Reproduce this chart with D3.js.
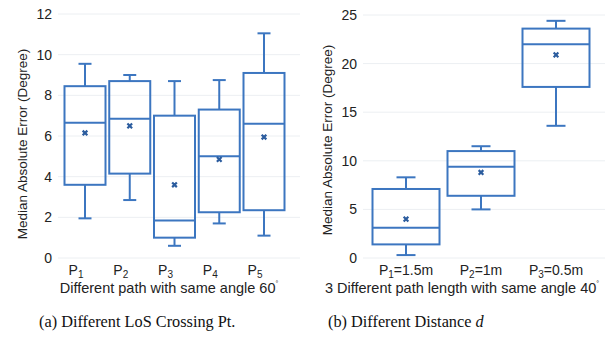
<!DOCTYPE html>
<html>
<head>
<meta charset="utf-8">
<script src="https://cdn.jsdelivr.net/npm/d3@7"></script>
<style>
  body { margin: 0; background: #fff; }
  svg { display: block; }
  .tick-text { font-family: "Liberation Sans", Arial, sans-serif; font-size: 14px; fill: #222; }
  .axis-text { font-family: "Liberation Sans", Arial, sans-serif; font-size: 14.5px; fill: #222; }
  .ylab { font-family: "Liberation Sans", Arial, sans-serif; font-size: 13.5px; fill: #222; }
  .caption { font-family: "Liberation Serif", "Times New Roman", serif; font-size: 16.3px; fill: #111; }
</style>
</head>
<body>
<div id="chart"></div>
<script>
// panel (a): five paths, same angle 60
const catsA = ["1", "2", "3", "4", "5"];
const minA  = [1.95, 2.85, 0.6, 1.7, 1.1];
const q1A   = [3.6, 4.15, 1.0, 2.25, 2.35];
const medA  = [6.65, 6.85, 1.85, 5.0, 6.6];
const q3A   = [8.45, 8.7, 7.0, 7.3, 9.1];
const maxA  = [9.55, 9.0, 8.7, 8.75, 11.05];
const meanA = [6.15, 6.5, 3.6, 4.85, 5.95];
const ticksA = [0, 2, 4, 6, 8, 10, 12];

// panel (b): three path lengths, same angle 40
const catsB  = ["1", "2", "3"];
const distB  = ["1.5m", "1m", "0.5m"];
const minB   = [0.3, 5.0, 13.6];
const q1B    = [1.4, 6.4, 17.6];
const medB   = [3.1, 9.4, 22.0];
const q3B    = [7.1, 11.0, 23.6];
const maxB   = [8.3, 11.5, 24.4];
const meanB  = [4.0, 8.8, 20.9];
const ticksB = [0, 5, 10, 15, 20, 25];

const W = 610, H = 343;
const boxColor = "#3c76c0";
const markColor = "#2b5c9e";

const svg = d3.select("#chart").append("svg")
  .attr("width", W).attr("height", H);

function panel(opt) {
  const g = svg.append("g");
  const y = d3.scaleLinear().domain(opt.domain).range([258, opt.top]);
  const x = d3.scalePoint().domain(opt.cats).range(opt.xr);
  const bw = opt.boxW;

  // gridlines
  g.selectAll(".grid").data(opt.ticks).enter().append("line")
    .attr("x1", opt.gx[0]).attr("x2", opt.gx[1])
    .attr("y1", d => y(d)).attr("y2", d => y(d))
    .attr("stroke", "#eceff2").attr("stroke-width", 1);

  // y tick labels
  g.selectAll(".yt").data(opt.ticks).enter().append("text")
    .attr("class", "tick-text")
    .attr("x", opt.labelX).attr("y", d => y(d))
    .attr("dy", "0.35em").attr("text-anchor", "end")
    .text(d => d);

  const rows = opt.cats.map((c, i) => ({
    c, min: opt.min[i], q1: opt.q1[i], med: opt.med[i], q3: opt.q3[i], max: opt.max[i], mean: opt.mean[i]
  }));

  const b = g.selectAll(".box").data(rows).enter().append("g");

  // whiskers
  b.append("line").attr("x1", d => x(d.c)).attr("x2", d => x(d.c))
    .attr("y1", d => y(d.q3)).attr("y2", d => y(d.max));
  b.append("line").attr("x1", d => x(d.c)).attr("x2", d => x(d.c))
    .attr("y1", d => y(d.q1)).attr("y2", d => y(d.min));
  b.append("line").attr("x1", d => x(d.c) - opt.capW / 2).attr("x2", d => x(d.c) + opt.capW / 2)
    .attr("y1", d => y(d.max)).attr("y2", d => y(d.max));
  b.append("line").attr("x1", d => x(d.c) - opt.capW / 2).attr("x2", d => x(d.c) + opt.capW / 2)
    .attr("y1", d => y(d.min)).attr("y2", d => y(d.min));
  // box
  b.append("rect")
    .attr("x", d => x(d.c) - bw / 2).attr("width", bw)
    .attr("y", d => y(d.q3)).attr("height", d => y(d.q1) - y(d.q3))
    .attr("fill", "none");
  // median
  b.append("line").attr("x1", d => x(d.c) - bw / 2).attr("x2", d => x(d.c) + bw / 2)
    .attr("y1", d => y(d.med)).attr("y2", d => y(d.med));
  b.selectAll("line, rect").attr("stroke", boxColor).attr("stroke-width", 2);

  // mean marker
  b.append("path")
    .attr("d", d3.symbol().type(d3.symbolTimes).size(16))
    .attr("transform", d => `translate(${x(d.c)},${y(d.mean)})`)
    .attr("fill", "none").attr("stroke", markColor).attr("stroke-width", 2.2);

  // x tick labels: P with subscript
  const xt = g.selectAll(".xt").data(rows).enter().append("text")
    .attr("class", "tick-text")
    .attr("x", d => x(d.c) + opt.xlOff).attr("y", 275)
    .attr("text-anchor", "middle");
  xt.append("tspan").text("P");
  xt.append("tspan").attr("dy", 3).attr("font-size", 10).text(d => d.c);
  if (opt.suffix) {
    xt.append("tspan").attr("dy", -3).text((d, i) => "=" + opt.suffix[i]);
  }

  // x axis label
  const xl = g.append("text").attr("class", "axis-text")
    .attr("x", opt.xlX).attr("y", 293).attr("text-anchor", "middle");
  xl.append("tspan").text(opt.xlabel);
  xl.append("tspan").attr("dy", -7).attr("font-size", 7).text("\u00b0");

  // y axis label
  g.append("text").attr("class", "ylab")
    .attr("text-anchor", "middle")
    .attr("transform", `translate(${opt.ylX},${opt.ylY}) rotate(-90)`)
    .text("Median Absolute Error (Degree)");
}

panel({
  cats: catsA, min: minA, q1: q1A, med: medA, q3: q3A, max: maxA, mean: meanA,
  domain: [0, 12], top: 14, ticks: ticksA,
  xr: [85, 264], boxW: 41, capW: 13, gx: [58, 300], labelX: 52,
  xlOff: -9, xlabel: "Different path with same angle 60", xlX: 169,
  ylX: 27, ylY: 144
});

panel({
  cats: catsB, min: minB, q1: q1B, med: medB, q3: q3B, max: maxB, mean: meanB,
  suffix: distB,
  domain: [0, 25], top: 15, ticks: ticksB,
  xr: [406, 556], boxW: 67, capW: 19, gx: [363, 605], labelX: 357,
  xlOff: 0, xlabel: "3 Different path length with same angle 40", xlX: 462,
  ylX: 332, ylY: 140
});

// captions
svg.append("text").attr("class", "caption")
  .attr("x", 39).attr("y", 327)
  .text("(a) Different LoS Crossing Pt.");
const cb = svg.append("text").attr("class", "caption")
  .attr("x", 328).attr("y", 327);
cb.append("tspan").text("(b) Different Distance ");
cb.append("tspan").attr("font-style", "italic").text("d");
</script>
</body>
</html>
